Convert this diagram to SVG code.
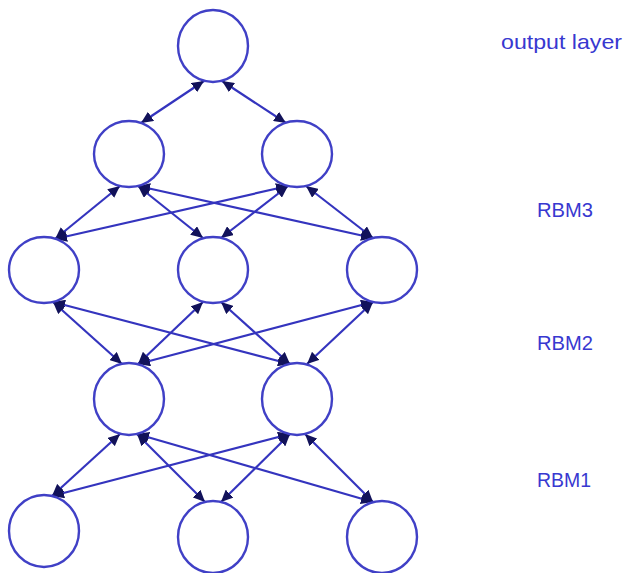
<svg xmlns="http://www.w3.org/2000/svg" width="625" height="573" viewBox="0 0 625 573">
  <style>
    .unit { fill: #ffffff; stroke: #4040c6; stroke-width: 2.4; }
    .link { stroke: #3434be; stroke-width: 2.2; fill: none; marker-start: url(#head); marker-end: url(#head); }
    .label { font-family: "Liberation Sans", Arial, sans-serif; font-size: 21px; fill: #3838d0; }
  </style>
  <defs>
    <marker id="head" markerUnits="userSpaceOnUse" markerWidth="12" markerHeight="11" refX="12" refY="5.5" orient="auto-start-reverse">
      <path d="M0,0 L12,5.5 L0,11 z" fill="#12125a"/>
    </marker>
  </defs>

  <rect width="625" height="573" fill="#ffffff"/>

  <!-- connections between adjacent layers (bidirectional) -->
  <g id="connectors">
    <!-- output layer to top hidden layer -->
    <line class="link" x1="204" y1="81" x2="141" y2="123"/>
    <line class="link" x1="222" y1="81" x2="286" y2="123"/>
    <!-- RBM3 -->
    <line class="link" x1="120" y1="186" x2="55" y2="239"/>
    <line class="link" x1="138" y1="186" x2="203" y2="238"/>
    <line class="link" x1="138" y1="186" x2="373" y2="238"/>
    <line class="link" x1="288" y1="186" x2="55" y2="239"/>
    <line class="link" x1="288" y1="186" x2="221" y2="238"/>
    <line class="link" x1="306" y1="186" x2="373" y2="238"/>
    <!-- RBM2 -->
    <line class="link" x1="53" y1="302" x2="122" y2="364"/>
    <line class="link" x1="53" y1="302" x2="290" y2="364"/>
    <line class="link" x1="203" y1="302" x2="138" y2="364"/>
    <line class="link" x1="221" y1="302" x2="290" y2="364"/>
    <line class="link" x1="373" y1="302" x2="138" y2="364"/>
    <line class="link" x1="373" y1="302" x2="307" y2="364"/>
    <!-- RBM1 -->
    <line class="link" x1="120" y1="434" x2="52" y2="496"/>
    <line class="link" x1="137" y1="434" x2="205" y2="502"/>
    <line class="link" x1="137" y1="434" x2="373" y2="502"/>
    <line class="link" x1="290" y1="434" x2="52" y2="496"/>
    <line class="link" x1="290" y1="434" x2="221" y2="502"/>
    <line class="link" x1="305" y1="434" x2="373" y2="502"/>
  </g>

  <!-- units -->
  <g id="out"><ellipse class="unit" cx="213" cy="46" rx="35" ry="36"/></g>
  <g id="h3a"><ellipse class="unit" cx="129" cy="154" rx="35" ry="33"/></g>
  <g id="h3b"><ellipse class="unit" cx="297" cy="154" rx="35" ry="33"/></g>
  <g id="h2a"><ellipse class="unit" cx="44" cy="270" rx="35" ry="33"/></g>
  <g id="h2b"><ellipse class="unit" cx="213" cy="270" rx="35" ry="33"/></g>
  <g id="h2c"><ellipse class="unit" cx="382" cy="270" rx="35" ry="33"/></g>
  <g id="h1a"><ellipse class="unit" cx="129" cy="399" rx="35" ry="36"/></g>
  <g id="h1b"><ellipse class="unit" cx="297" cy="399" rx="35" ry="36"/></g>
  <g id="in1"><ellipse class="unit" cx="44" cy="531" rx="35" ry="36"/></g>
  <g id="in2"><ellipse class="unit" cx="213" cy="537" rx="35" ry="36"/></g>
  <g id="in3"><ellipse class="unit" cx="382" cy="537" rx="35" ry="36"/></g>

  <!-- layer labels -->
  <g id="labels">
    <text class="label" x="501" y="49" textLength="121" lengthAdjust="spacingAndGlyphs">output layer</text>
    <text class="label" x="537" y="217" textLength="56" lengthAdjust="spacingAndGlyphs">RBM3</text>
    <text class="label" x="537" y="350" textLength="56" lengthAdjust="spacingAndGlyphs">RBM2</text>
    <text class="label" x="537" y="487" textLength="54" lengthAdjust="spacingAndGlyphs">RBM1</text>
  </g>
</svg>
